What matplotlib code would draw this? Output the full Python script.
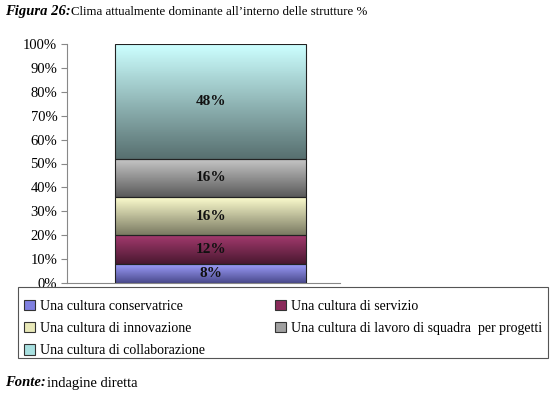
import matplotlib
matplotlib.use("Agg")
import matplotlib.pyplot as plt
import numpy as np
from matplotlib.colors import LinearSegmentedColormap
from matplotlib.patches import Patch, Rectangle

plt.rcParams['font.family'] = ['Liberation Serif', 'DejaVu Serif']

categories = ['Una cultura conservatrice', 'Una cultura di servizio',
              'Una cultura di innovazione',
              'Una cultura di lavoro di squadra  per progetti',
              'Una cultura di collaborazione']
values = [8, 12, 16, 16, 48]
labels = ['8%', '12%', '16%', '16%', '48%']
# (top colour, bottom colour) of each gradient segment
tops = ['#a0a0ff', '#a33a6e', '#ffffd0', '#c8c8c8', '#ccffff']
bottoms = ['#4a4a8c', '#4a1830', '#7a7a62', '#5a5a5a', '#587070']
mids = ['#8080e0', '#8a2a5a', '#e8e8b8', '#a0a0a0', '#a8e0e0']
yticks = [0, 10, 20, 30, 40, 50, 60, 70, 80, 90, 100]

fig = plt.figure(figsize=(5.5, 3.98), dpi=100)
ax = fig.add_axes([67/550, 1-283/398, 273/550, (283-44)/398])

bottom = 0
for v, lab, t, b in zip(values, labels, tops, bottoms):
    bar = ax.bar(0, v, width=0.7, bottom=bottom, facecolor='none',
                 edgecolor='#222222', linewidth=0.8, zorder=3)[0]
    cmap = LinearSegmentedColormap.from_list('g', [b, t])
    grad = np.linspace(0, 1, 64).reshape(-1, 1)
    im = ax.imshow(grad, cmap=cmap, origin='lower', aspect='auto',
                   extent=(-0.35, 0.35, bottom, bottom + v), zorder=2)
    im.set_clip_path(bar)
    ax.text(0, bottom + v / 2, lab, ha='center', va='center',
            fontsize=11, fontweight='bold', color='#111111', zorder=4)
    bottom += v

ax.set_xlim(-0.527, 0.473)
ax.set_ylim(0, 100)
ax.set_yticks(yticks)
ax.set_yticklabels([f'{y}%' for y in yticks], fontsize=10.5)
ax.set_xticks([])
for s in ['top', 'right']:
    ax.spines[s].set_visible(False)
ax.spines['left'].set_color('#888888')
ax.spines['bottom'].set_color('#888888')
ax.tick_params(axis='y', length=4, color='#888888', pad=3)

# legend frame
fig.patches.append(Rectangle((18/550, 1-358/398), 530/550, 71/398,
                             transform=fig.transFigure, facecolor='none',
                             edgecolor='#555555', linewidth=0.8))
order = [0, 2, 4, 1, 3]
handles = [Patch(facecolor=mids[i], edgecolor='#333333', linewidth=0.8) for i in order]
fig.legend(handles, [categories[i] for i in order], ncol=2, mode='expand',
           loc='upper left', bbox_to_anchor=(18/550, 1-294/398, 530/550, 0),
           fontsize=10, frameon=False,
           handlelength=0.8, handleheight=0.8, handletextpad=0.4,
           labelspacing=0.66, borderpad=0.4, borderaxespad=0)

fig.text(5/550, 1-12/398, 'Figura 26:', fontsize=10.5, va='center',
         fontweight='bold', fontstyle='italic')
fig.text(71/550, 1-12/398, 'Clima attualmente dominante all\u2019interno delle strutture %',
         fontsize=9.3, va='center')
fig.text(5/550, 1-383/398, 'Fonte:', fontsize=10.5, va='center',
         fontweight='bold', fontstyle='italic')
fig.text(47/550, 1-383/398, 'indagine diretta', fontsize=10.5, va='center')

fig.savefig('out.png', dpi=100)
